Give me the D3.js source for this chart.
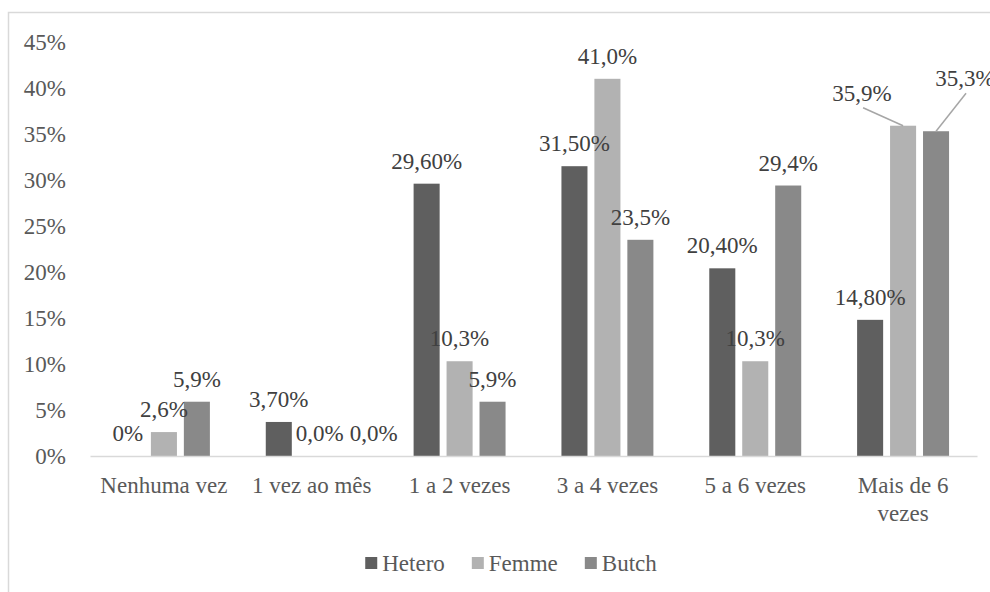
<!DOCTYPE html>
<html>
<head>
<meta charset="utf-8">
<script src="https://cdn.jsdelivr.net/npm/d3@7"></script>
<style>
  body { margin: 0; background: #fff; }
  svg text { font-family: "Liberation Serif", "DejaVu Serif", Times, serif !important; }
</style>
</head>
<body>
<div id="chart"></div>
<script>
var categories = ["Nenhuma vez", "1 vez ao mês", "1 a 2 vezes", "3 a 4 vezes", "5 a 6 vezes", "Mais de 6 vezes"];
var seriesNames = ["Hetero", "Femme", "Butch"];
var hetero = [0, 3.7, 29.6, 31.5, 20.4, 14.8];
var femme = [2.6, 0, 10.3, 41.0, 10.3, 35.9];
var butch = [5.9, 0, 5.9, 23.5, 29.4, 35.3];
var heteroLabels = ["0%", "3,70%", "29,60%", "31,50%", "20,40%", "14,80%"];
var femmeLabels = ["2,6%", "0,0%", "10,3%", "41,0%", "10,3%", "35,9%"];
var butchLabels = ["5,9%", "0,0%", "5,9%", "23,5%", "29,4%", "35,3%"];
var yTicks = [0, 5, 10, 15, 20, 25, 30, 35, 40, 45];

var colors = ["#5f5f5f", "#b2b2b2", "#898989"];
var serif = "Liberation Serif, DejaVu Serif, Times, serif";
// labels that were dragged off their default place in the original
var labelMoves = [
    { s: 0, c: 0, dx: -3, dy: 0 },
    { s: 1, c: 1, dx: 8, dy: 0 },
    { s: 2, c: 1, dx: 29, dy: 0 },
    { s: 1, c: 5, dx: -41, dy: -10, leader: true },
    { s: 2, c: 5, dx: 29, dy: -30, leader: true }
];

var width = 990, height = 592;
var fontSize = 23;

var svg = d3.select("#chart").append("svg")
    .attr("width", width)
    .attr("height", height)
    .attr("font-family", serif);

// chart frame, right and bottom edges fall outside the picture
svg.append("rect")
    .attr("x", 8.5).attr("y", 12.5)
    .attr("width", 1000).attr("height", 600)
    .attr("fill", "none")
    .attr("stroke", "#d9d9d9")
    .attr("stroke-width", 1.5);

var x0 = d3.scaleBand()
    .domain(categories)
    .range([90, 977])
    .paddingInner(0.378)
    .paddingOuter(0.189);

var x1 = d3.scaleBand()
    .domain(seriesNames)
    .range([0, x0.bandwidth()])
    .paddingInner(0.21);

var y = d3.scaleLinear()
    .domain([0, 45])
    .range([456, 42]);

var values = [hetero, femme, butch];
var labels = [heteroLabels, femmeLabels, butchLabels];

var data = [];
seriesNames.forEach(function (s, si) {
    categories.forEach(function (c, ci) {
        data.push({ s: si, c: ci, name: s, cat: c, v: values[si][ci], label: labels[si][ci] });
    });
});

// y axis
var yAxis = svg.append("g")
    .attr("transform", "translate(66,0)")
    .call(d3.axisLeft(y).tickValues(yTicks).tickSize(0).tickPadding(0).tickFormat(function (d) { return d + "%"; }));
yAxis.attr("font-family", serif);
yAxis.select(".domain").remove();
yAxis.selectAll("text")
    .attr("font-size", fontSize)
    .attr("fill", "#595959")
    .attr("dy", "0.33em");

// bars
svg.append("g").selectAll("rect")
    .data(data)
    .enter()
    .append("rect")
    .attr("x", function (d) { return x0(d.cat) + x1(d.name); })
    .attr("y", function (d) { return y(d.v); })
    .attr("width", x1.bandwidth())
    .attr("height", function (d) { return y(0) - y(d.v); })
    .attr("fill", function (d) { return colors[d.s]; });

// x axis
var xAxis = svg.append("g")
    .attr("transform", "translate(0," + y(0) + ")")
    .call(d3.axisBottom(x0).tickSize(0).tickSizeOuter(0).tickPadding(0));
xAxis.attr("font-family", serif);
xAxis.select(".domain")
    .attr("stroke", "#d9d9d9")
    .attr("stroke-width", 1.5);
xAxis.selectAll("text")
    .attr("font-size", fontSize)
    .attr("fill", "#595959")
    .attr("dy", null)
    .attr("y", 37)
    .each(function (d) {
        var t = d3.select(this);
        var words = d.split(" ");
        t.text(null);
        var lines = [];
        var line = [];
        var probe = t.append("tspan");
        words.forEach(function (w) {
            line.push(w);
            probe.text(line.join(" "));
            if (probe.node().getComputedTextLength() > 142 && line.length > 1) {
                line.pop();
                lines.push(line.join(" "));
                line = [w];
            }
        });
        lines.push(line.join(" "));
        probe.remove();
        lines.forEach(function (l, i) {
            t.append("tspan").attr("x", 0).attr("dy", i == 0 ? 0 : 28).text(l);
        });
    });

// value labels
function moveFor(d) {
    var m = labelMoves.filter(function (k) { return k.s == d.s && k.c == d.c; });
    return m.length ? m[0] : { dx: 0, dy: 0 };
}
data.forEach(function (d) {
    var m = moveFor(d);
    d.bx = x0(d.cat) + x1(d.name) + x1.bandwidth() / 2;
    d.by = y(d.v);
    d.lx = d.bx + m.dx;
    d.ly = d.by - 23 + m.dy;
    d.leader = m.leader;
});

svg.append("g").selectAll("line")
    .data(data.filter(function (d) { return d.leader; }))
    .enter()
    .append("line")
    .attr("x1", function (d) { return d.lx + 1; })
    .attr("y1", function (d) { return d.ly + 15; })
    .attr("x2", function (d) { return d.bx; })
    .attr("y2", function (d) { return d.by; })
    .attr("stroke", "#a6a6a6")
    .attr("stroke-width", 1.5);

svg.append("g").selectAll("text")
    .data(data)
    .enter()
    .append("text")
    .attr("x", function (d) { return d.lx; })
    .attr("y", function (d) { return d.ly + 8; })
    .attr("text-anchor", "middle")
    .attr("font-size", fontSize)
    .attr("fill", "#404040")
    .text(function (d) { return d.label; });

// legend
var legend = svg.append("g");
var lx = 0;
seriesNames.forEach(function (s, i) {
    var g = legend.append("g").attr("transform", "translate(" + lx + ",0)");
    g.append("rect")
        .attr("x", 0).attr("y", -6)
        .attr("width", 12).attr("height", 12)
        .attr("fill", colors[i]);
    var t = g.append("text")
        .attr("x", 17).attr("y", 8)
        .attr("font-size", fontSize)
        .attr("fill", "#595959")
        .text(s);
    lx += 17 + t.node().getComputedTextLength() + 27;
});
var lw = lx - 27;
legend.attr("transform", "translate(" + (511 - lw / 2) + ",563)");
</script>
</body>
</html>
